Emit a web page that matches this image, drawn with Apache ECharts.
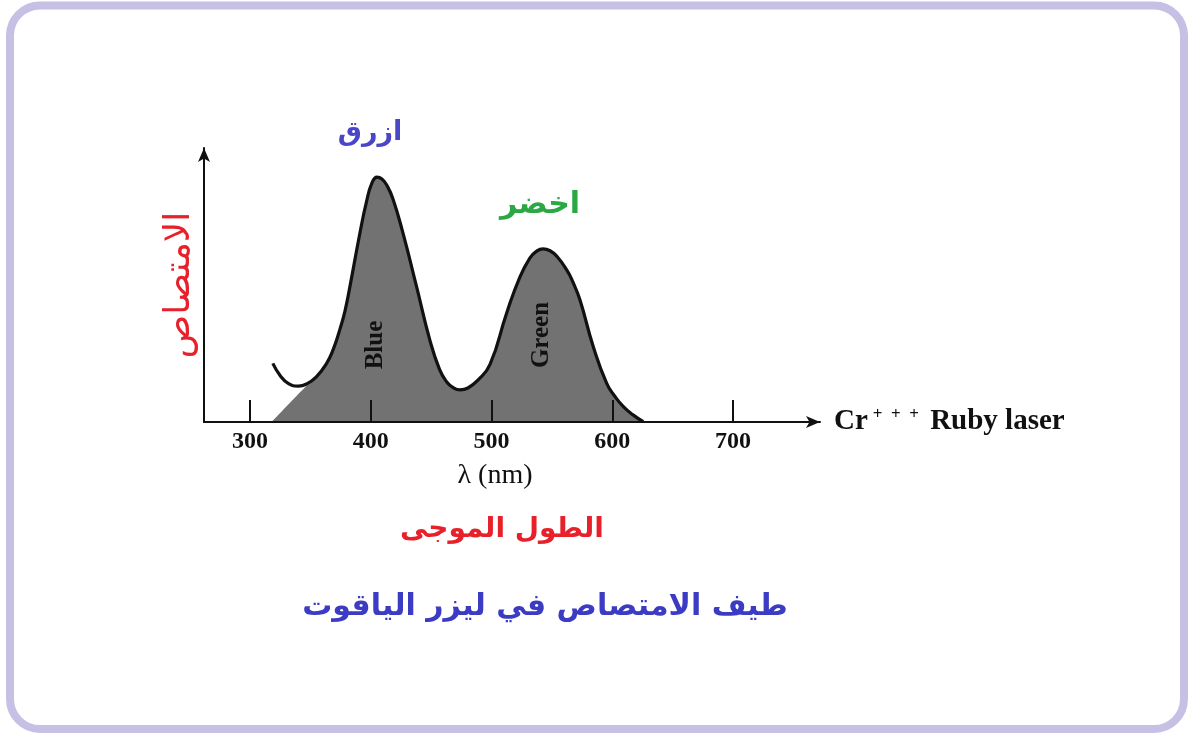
<!DOCTYPE html>
<html>
<head>
<meta charset="utf-8">
<script src="https://cdn.jsdelivr.net/npm/echarts@6/dist/echarts.min.js"></script>
<style>
html,body{margin:0;padding:0;background:#fff;}
#c{width:1192px;height:735px;}
</style>
</head>
<body>
<div id="c"></div>
<script>
// Wavelength (nm) and absorption (arbitrary units, 0..100) of the outlined curve
const curveX = [319, 325, 332, 340, 347, 355, 363.5, 369, 374.5, 378.7, 382.8, 391.1, 396.6, 401, 405.2, 409.3, 413.5, 418.4, 426.7, 438, 449, 457, 463, 468, 474, 480.5, 488.8, 498.8, 512.6, 523.6, 531.9, 536.9, 542.7, 548.5, 554.3, 562.3, 567.5, 573.3, 584.3, 595.4, 602.3, 609.2, 617.2, 625.7];
const curveY = [21.4, 17, 14, 13.1, 13.9, 16.5, 21.4, 26.5, 33.8, 40.5, 49.4, 69, 80.5, 87.2, 89.4, 88.7, 86.3, 81.5, 69, 49.4, 29.9, 19.2, 14.6, 12.6, 11.7, 12.4, 15.3, 21, 39.8, 53, 59.9, 62.2, 63.2, 62.5, 60.4, 55.5, 51, 44.5, 27.5, 14.1, 9.3, 5.6, 2.6, 0.1];
// Shaded (ruby absorption) region: left edge rises from the baseline, then follows the curve
const fillX = [318, 336, 352, 355, 363.5, 369, 374.5, 378.7, 382.8, 391.1, 396.6, 401, 405.2, 409.3, 413.5, 418.4, 426.7, 438, 449, 457, 463, 468, 474, 480.5, 488.8, 498.8, 512.6, 523.6, 531.9, 536.9, 542.7, 548.5, 554.3, 562.3, 567.5, 573.3, 584.3, 595.4, 602.3, 609.2, 617.2, 625.7];
const fillY = [0, 8.3, 15.4, 16.5, 21.4, 26.5, 33.8, 40.5, 49.4, 69, 80.5, 87.2, 89.4, 88.7, 86.3, 81.5, 69, 49.4, 29.9, 19.2, 14.6, 12.6, 11.7, 12.4, 15.3, 21, 39.8, 53, 59.9, 62.2, 63.2, 62.5, 60.4, 55.5, 51, 44.5, 27.5, 14.1, 9.3, 5.6, 2.6, 0.1];
const tickValues = [300, 400, 500, 600, 700];
const xMin = 262, xMax = 772;

const chart = echarts.init(document.getElementById('c'));
const serif = 'Liberation Serif';
const arab = 'DejaVu Sans';

chart.setOption({
  animation: false,
  backgroundColor: '#ffffff',
  grid: {left: 204, top: 148, right: 372, bottom: 313},
  xAxis: {
    type: 'value', min: xMin, max: xMax, z: 5,
    axisLine: {show: true, lineStyle: {color: '#111', width: 2}, symbol: ['none', 'arrow'], symbolSize: [9, 14]},
    axisTick: {show: true, inside: true, length: 22, lineStyle: {color: '#111', width: 2}, customValues: tickValues},
    axisLabel: {show: true, customValues: tickValues, margin: 8, color: '#111', fontFamily: serif, fontSize: 24, fontWeight: 'bold'},
    splitLine: {show: false},
    name: '{n|Cr}{s|+  +  +}{n| Ruby laser}',
    nameLocation: 'end', nameGap: 14,
    nameTextStyle: {
      rich: {
        n: {fontFamily: serif, fontSize: 29, color: '#111', fontWeight: 'bold', lineHeight: 32},
        s: {fontFamily: serif, fontSize: 17, color: '#111', fontWeight: 'bold', verticalAlign: 'top', lineHeight: 32, padding: [0, 4, 12, 5]}
      }
    }
  },
  yAxis: {
    type: 'value', min: 0, max: 100,
    axisLine: {show: true, lineStyle: {color: '#111', width: 2}, symbol: ['none', 'arrow'], symbolSize: [9, 14]},
    axisTick: {show: false}, axisLabel: {show: false}, splitLine: {show: false},
    name: 'الامتصاص', nameLocation: 'middle', nameRotate: 90, nameGap: 6,
    nameTextStyle: {color: '#e8202a', fontFamily: arab, fontSize: 36, fontWeight: 'normal'}
  },
  series: [
    {
      type: 'line', data: fillX.map((x, i) => [x, fillY[i]]), smooth: 0.5, showSymbol: false, z: 2,
      lineStyle: {width: 0, opacity: 0}, areaStyle: {color: '#727272', opacity: 1}
    },
    {
      type: 'line', data: curveX.map((x, i) => [x, curveY[i]]), smooth: 0.5, showSymbol: false, z: 3,
      lineStyle: {color: '#111', width: 3.2}
    }
  ],
  graphic: [
    {type: 'rect', shape: {x: 10, y: 5.5, width: 1174, height: 723.5, r: 30}, style: {fill: 'none', stroke: '#c5c0e4', lineWidth: 8}, z: 100},
    {type: 'text', x: 370, y: 133, style: {text: 'ازرق', fill: '#4a46c8', font: 'bold 27px "DejaVu Sans"', textAlign: 'center', textVerticalAlign: 'middle'}, z: 10},
    {type: 'text', x: 540, y: 205, style: {text: 'اخضر', fill: '#2aa844', font: 'bold 30px "DejaVu Sans"', textAlign: 'center', textVerticalAlign: 'middle'}, z: 10},
    {type: 'text', x: 376, y: 345, rotation: Math.PI / 2, style: {text: 'Blue', fill: '#111', font: 'bold 25px "Liberation Serif"', textAlign: 'center', textVerticalAlign: 'middle'}, z: 10},
    {type: 'text', x: 542, y: 335, rotation: Math.PI / 2, style: {text: 'Green', fill: '#111', font: 'bold 25px "Liberation Serif"', textAlign: 'center', textVerticalAlign: 'middle'}, z: 10},
    {type: 'text', x: 495, y: 476, style: {text: 'λ (nm)', fill: '#111', font: '28px "Liberation Serif"', textAlign: 'center', textVerticalAlign: 'middle'}, z: 10},
    {type: 'text', x: 502, y: 530, style: {text: 'الطول الموجى', fill: '#e8202a', font: 'bold 28px "DejaVu Sans"', textAlign: 'center', textVerticalAlign: 'middle'}, z: 10},
    {type: 'text', x: 545, y: 607, style: {text: 'طيف الامتصاص في ليزر الياقوت', fill: '#3b3bc4', font: 'bold 30px "DejaVu Sans"', textAlign: 'center', textVerticalAlign: 'middle'}, z: 10}
  ]
});
</script>
</body>
</html>
